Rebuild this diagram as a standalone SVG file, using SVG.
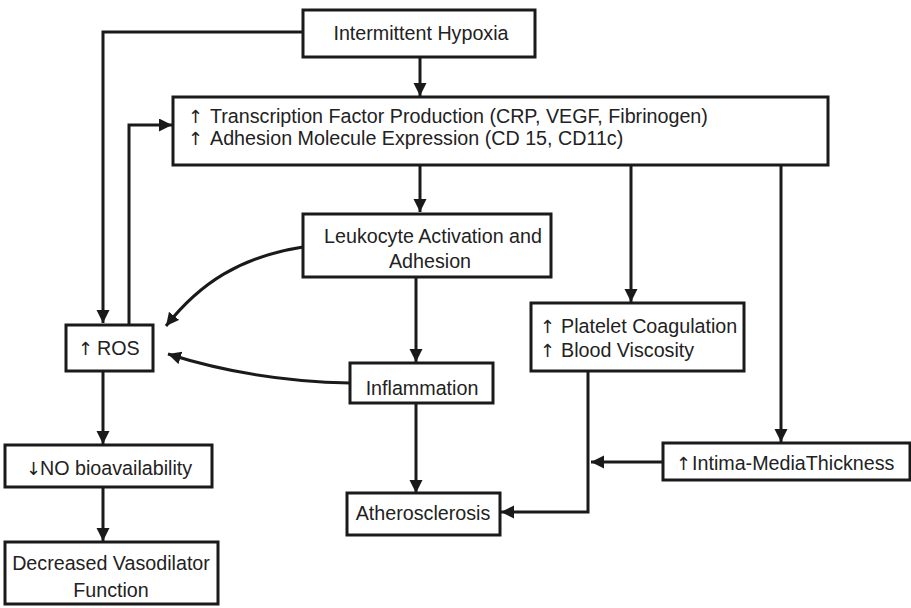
<svg xmlns="http://www.w3.org/2000/svg" width="911" height="608" viewBox="0 0 911 608">
<defs>
<marker id="ah" markerUnits="userSpaceOnUse" markerWidth="16" markerHeight="16" refX="13" refY="6.5" orient="auto">
<path d="M0,0 L13,6.5 L0,13 Z" fill="#1a1a1a"/>
</marker>
<style>
.box{fill:#fff;stroke:#1a1a1a;stroke-width:3}
.ar{fill:none;stroke:#1a1a1a;stroke-width:3;marker-end:url(#ah)}
text{font-family:"Liberation Sans",Arial,sans-serif;font-size:19.7px;fill:#222}
.c{text-anchor:middle}
.arw{font-family:"DejaVu Sans",sans-serif;font-size:18px;fill:#222}
</style>
</defs>
<rect width="911" height="608" fill="#fff"/>
<g id="connectors">
<polyline class="ar" points="303,32 103,32 103,323"/>
<line class="ar" x1="420" y1="57" x2="420" y2="96"/>
<polyline class="ar" points="129,325 129,125 172,125"/>
<line class="ar" x1="420" y1="165" x2="420" y2="212"/>
<line class="ar" x1="631" y1="165" x2="631" y2="302"/>
<line class="ar" x1="781" y1="165" x2="781" y2="442"/>
<path class="ar" d="M303,247 C240,257 200,283 166,326"/>
<line class="ar" x1="416" y1="277" x2="416" y2="362"/>
<path class="ar" d="M350,383 C285,382 225,372 168,354"/>
<line class="ar" x1="103" y1="371" x2="103" y2="444"/>
<line class="ar" x1="103" y1="487" x2="103" y2="541"/>
<line class="ar" x1="416" y1="403" x2="416" y2="493"/>
<polyline class="ar" points="588,371 588,512 501,512"/>
<line class="ar" x1="663" y1="462" x2="591" y2="462"/>
</g>
<g id="hypoxia">
<rect class="box" x="303" y="10" width="232" height="47"/>
<text class="c" x="421" y="40">Intermittent Hypoxia</text>
</g>
<g id="transcription">
<rect class="box" x="173" y="97" width="655" height="68"/>
<text class="arw" x="188" y="123">↑</text>
<text x="210" y="123">Transcription Factor Production (CRP, VEGF, Fibrinogen)</text>
<text class="arw" x="188" y="145">↑</text>
<text x="210" y="145">Adhesion Molecule Expression (CD 15, CD11c)</text>
</g>
<g id="leukocyte">
<rect class="box" x="303" y="214" width="248" height="63"/>
<text class="c" x="433" y="243">Leukocyte Activation and</text>
<text class="c" x="430" y="268">Adhesion</text>
</g>
<g id="ros">
<rect class="box" x="66" y="325" width="87" height="46"/>
<text class="arw" x="78" y="355">↑</text>
<text x="97" y="355">ROS</text>
</g>
<g id="inflammation">
<rect class="box" x="350" y="363" width="143" height="40"/>
<text class="c" x="422" y="395">Inflammation</text>
</g>
<g id="platelet">
<rect class="box" x="531" y="303" width="213" height="68"/>
<text class="arw" x="540" y="333">↑</text>
<text x="561" y="333">Platelet Coagulation</text>
<text class="arw" x="540" y="357">↑</text>
<text x="561" y="357">Blood Viscosity</text>
</g>
<g id="intima">
<rect class="box" x="663" y="443" width="247" height="37"/>
<text class="arw" x="676" y="470">↑</text>
<text x="692" y="470">Intima-MediaThickness</text>
</g>
<g id="no">
<rect class="box" x="5" y="445" width="207" height="42"/>
<text class="arw" x="26" y="475">↓</text>
<text x="40" y="475">NO bioavailability</text>
</g>
<g id="vasodilator">
<rect class="box" x="5" y="542" width="213" height="62"/>
<text class="c" x="111" y="570">Decreased Vasodilator</text>
<text class="c" x="111" y="597">Function</text>
</g>
<g id="atherosclerosis">
<rect class="box" x="347" y="493" width="153" height="42"/>
<text class="c" x="423" y="520">Atherosclerosis</text>
</g>
</svg>
